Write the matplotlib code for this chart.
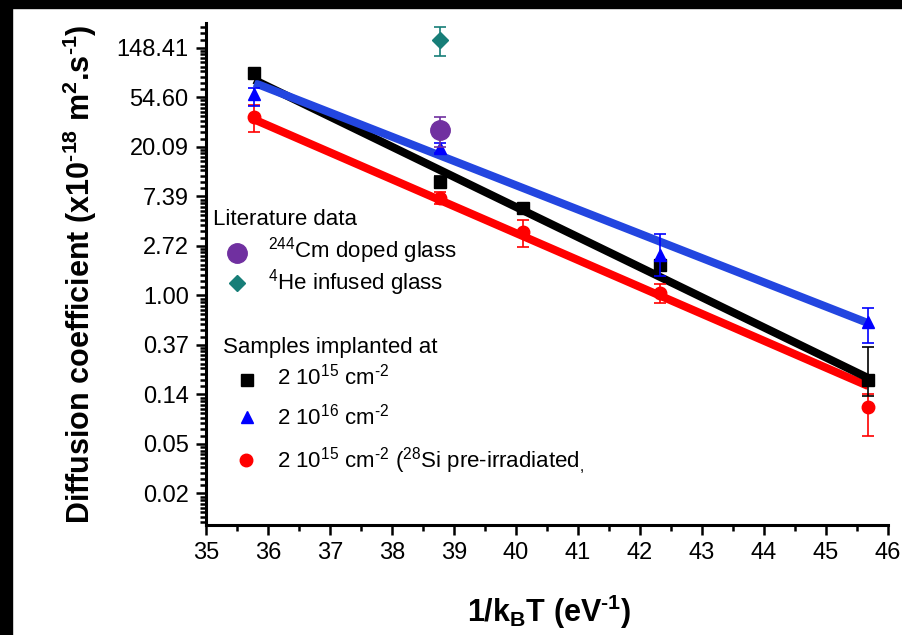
import matplotlib
matplotlib.use('Agg')
import matplotlib.pyplot as plt
import numpy as np
from matplotlib.ticker import FixedLocator, FixedFormatter, NullFormatter
from matplotlib.patches import Rectangle

plt.rcParams['font.family'] = ['Liberation Sans', 'DejaVu Sans']
plt.rcParams['mathtext.fontset'] = 'custom'
plt.rcParams['mathtext.rm'] = 'Liberation Sans'
plt.rcParams['mathtext.it'] = 'Liberation Sans'
plt.rcParams['mathtext.bf'] = 'Liberation Sans:bold'
plt.rcParams['mathtext.default'] = 'regular'

# Datos (1/kT en eV^-1, D en 1e-18 m2/s)
x_imp = [35.77, 38.77, 40.11, 42.32, 45.68]
D_15 = [89.5, 9.9, 5.85, 1.85, 0.18]
D_15_lo = [8.0, 1.2, 0.4, 0.2, 0.05]
D_15_hi = [8.0, 1.2, 0.4, 0.2, 0.17]
D_16 = [58.6, 19.7, np.nan, 2.27, 0.58]
D_16_lo = [13.0, 2.0, 0.0, 0.8, 0.20]
D_16_hi = [7.0, 2.0, 0.0, 1.2, 0.20]
D_si = [36.8, 7.2, 3.6, 1.05, 0.105]
D_si_lo = [9.6, 0.9, 0.95, 0.2, 0.047]
D_si_hi = [9.6, 0.9, 0.95, 0.2, 0.03]

# Datos de literatura
x_lit = [38.77]
D_cm = [28.3]
D_cm_err = [8.5]
D_he = [174.0]
D_he_lo = [48.0]
D_he_hi = [52.0]

# Ajustes de Arrhenius (extremos)
x_fit = [35.78, 45.68]
fit_15 = [77.5, 0.188]
fit_16 = [73.0, 0.57]
fit_si = [34.8, 0.16]

yticks_exp = [-4, -3, -2, -1, 0, 1, 2, 3, 4, 5]

fig = plt.figure(figsize=(9.02, 6.35), dpi=100)
ax = fig.add_axes([206/902, 1 - 525/635, 682/902, 502/635])

# Rectas de ajuste
ax.plot(x_fit, fit_si, color='#FF0000', lw=5.8, solid_capstyle='butt', zorder=2)
ax.plot(x_fit, fit_15, color='black', lw=5.8, solid_capstyle='butt', zorder=3)
ax.plot(x_fit, fit_16, color='#2346E0', lw=5.8, solid_capstyle='butt', zorder=4)

# Puntos experimentales
ax.errorbar(x_imp, D_si, yerr=[D_si_lo, D_si_hi], fmt='o', color='#FF0000', ms=9,
            elinewidth=1.2, capsize=4, capthick=1.2, zorder=5)
ax.errorbar(x_imp, D_15, yerr=[D_15_lo, D_15_hi], fmt='s', color='black', ms=8,
            elinewidth=1.2, capsize=4, capthick=1.2, zorder=5)
ax.errorbar(x_imp, D_16, yerr=[D_16_lo, D_16_hi], fmt='^', color='#0000FF', ms=9,
            elinewidth=1.2, capsize=4, capthick=1.2, zorder=6)
ax.errorbar(x_lit, D_cm, yerr=D_cm_err, fmt='o', color='#7030A0', ms=14,
            elinewidth=1.2, capsize=4, capthick=1.2, zorder=7)
ax.errorbar(x_lit, D_he, yerr=[D_he_lo, D_he_hi], fmt='D', color='#177E78', ms=8,
            elinewidth=1.2, capsize=4, capthick=1.2, zorder=7)

# Ejes
ax.set_yscale('log', base=np.e)
ax.set_ylim(np.exp(-4.64), np.exp(5.5))
ax.set_xlim(35, 46)
ymaj = [np.exp(k) for k in yticks_exp]
ax.yaxis.set_major_locator(FixedLocator(ymaj))
ax.yaxis.set_major_formatter(FixedFormatter(['%.2f' % v for v in ymaj]))
ymin = []
for n in range(-6, 6):
    for k in range(1, 10):
        ymin.append(np.exp(n) * (1 + k * (np.e - 1) / 10))
ax.yaxis.set_minor_locator(FixedLocator(ymin))
ax.yaxis.set_minor_formatter(NullFormatter())
ax.set_xticks(np.arange(35, 47, 1))
ax.set_xticks(np.arange(35.5, 46, 1), minor=True)

for s in ['top', 'right']:
    ax.spines[s].set_visible(False)
for s in ['left', 'bottom']:
    ax.spines[s].set_linewidth(2.2)
ax.tick_params(which='major', direction='out', length=7.5, width=1.8, labelsize=17, pad=5)
ax.tick_params(which='minor', direction='out', length=4.5, width=1.8)

ax.set_ylabel('Diffusion coefficient (x10$^{\u2010 18}$ m$^{2}$.s$^{\u2010 1}$)', fontsize=22,
              fontweight='bold')
ax.yaxis.set_label_coords(-0.157, 0.5)
ax.set_xlabel('1/k$_{B}$T (eV$^{\u2010 1}$)', fontsize=22, fontweight='bold')
ax.xaxis.set_label_coords(0.503, -0.135)


# Leyendas dibujadas a mano (coordenadas en pixeles de la figura)
def axf(px, py):
    return ((px - 206) / 682, (525 - py) / 502)


def legtext(px, py, s):
    ax.text(*axf(px, py), s, transform=ax.transAxes, fontsize=16, ha='left', va='baseline')


def legmark(px, py, **kw):
    ax.plot(*axf(px, py), transform=ax.transAxes, clip_on=False, ls='none', **kw)


legtext(213, 225, 'Literature data')
legmark(237, 253, marker='o', color='#7030A0', ms=14)
legtext(268, 258, '$^{244}$Cm doped glass')
legmark(237, 283, marker='D', color='#177E78', ms=8)
legtext(268, 290, '$^{4}$He infused glass')

legtext(223, 353, 'Samples implanted at')
legmark(247, 380, marker='s', color='black', ms=8)
legtext(277, 385, '2 10$^{15}$ cm$^{\u2010 2}$')
legmark(247, 417, marker='^', color='#0000FF', ms=9)
legtext(277, 425, '2 10$^{16}$ cm$^{\u2010 2}$')
legmark(246, 460, marker='o', color='#FF0000', ms=9)
legtext(277, 468, '2 10$^{15}$ cm$^{\u2010 2}$ ($^{28}$Si pre-irradiated$_{,}$')

# Marco negro de la captura
fig.add_artist(Rectangle((0, 1 - 8/635), 1, 8/635, transform=fig.transFigure,
                         color='black', zorder=10))
fig.add_artist(Rectangle((0, 0), 12/902, 1, transform=fig.transFigure,
                         color='black', zorder=10))

plt.savefig('out.png', dpi=100)
